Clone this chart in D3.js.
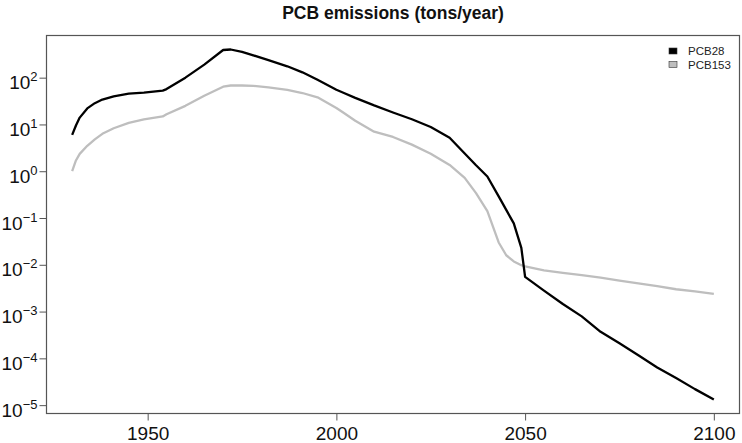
<!DOCTYPE html>
<html>
<head>
<meta charset="utf-8">
<script src="https://cdn.jsdelivr.net/npm/d3@7/dist/d3.min.js"></script>
<style>
  html, body { margin: 0; padding: 0; background: #fff; }
  svg { display: block; font-family: "Liberation Sans", Arial, sans-serif; }
</style>
</head>
<body>
<svg id="chart" width="742" height="443"></svg>
<script>
// ---- data ----
const years = [1930, 1931, 1932, 1934, 1936, 1938, 1941, 1945, 1949, 1954, 1955,
  1960, 1965, 1970, 1972, 1975, 1978, 1982, 1987, 1991, 1995, 2000, 2002, 2005,
  2010, 2015, 2020, 2025, 2030, 2034, 2037, 2040, 2043, 2045, 2047, 2049, 2050,
  2055, 2060, 2065, 2070, 2075, 2080, 2085, 2090, 2095, 2100];
const pcb28 = [6.0, 9.5, 14, 22, 28.5, 34, 40, 45.5, 48, 53, 57,
  100, 190, 390, 400, 355, 300, 237, 175, 130, 90, 55, 47, 37,
  25.5, 18, 12.9, 8.8, 5.2, 2.4, 1.34, 0.77, 0.29, 0.149, 0.077, 0.023, 0.0055,
  2.8e-3, 1.45e-3, 7.9e-4, 3.7e-4, 2.1e-4, 1.17e-4, 6.4e-5, 3.8e-5, 2.2e-5, 1.32e-5];
const pcb153 = [1.0, 1.7, 2.35, 3.5, 4.8, 6.3, 8.3, 10.8, 12.8, 14.8, 16.5,
  25, 41, 64, 68, 68, 67, 62, 55, 47, 38, 22.4, 17.5, 12,
  7.0, 5.4, 3.7, 2.37, 1.36, 0.72, 0.34, 0.14, 0.030, 0.016, 0.0118, 0.0098, 0.0092,
  7.6e-3, 6.7e-3, 6.0e-3, 5.3e-3, 4.6e-3, 4.0e-3, 3.5e-3, 3.0e-3, 2.7e-3, 2.4e-3];
const seriesNames = ["PCB28", "PCB153"];
const seriesColors = ["#000000", "#bebebe"];
const xTicks = [1950, 2000, 2050, 2100];
const yExponents = [2, 1, 0, -1, -2, -3, -4, -5];
const title = "PCB emissions (tons/year)";

// ---- layout ----
const box = { left: 46.5, right: 739.5, top: 35.5, bottom: 413.5 };
const svg = d3.select("#chart");

// R-style 4% axis extension
const xr = d3.extent(years);
const xpad = (xr[1] - xr[0]) * 0.04;
const allVals = pcb28.concat(pcb153);
const lr = d3.extent(allVals).map(Math.log10);
const lpad = (lr[1] - lr[0]) * 0.04;

const x = d3.scaleLinear().domain([xr[0] - xpad, xr[1] + xpad]).range([box.left, box.right]);
const y = d3.scaleLog().domain([Math.pow(10, lr[0] - lpad), Math.pow(10, lr[1] + lpad)])
  .range([box.bottom, box.top]);

const axisColor = "#555";
const fontSize = 19;
const fam = '"Liberation Sans", Arial, sans-serif';

// x axis
const gx = svg.append("g").attr("transform", `translate(0,${box.bottom})`)
  .call(d3.axisBottom(x).tickValues(xTicks).tickFormat(d3.format("d")).tickSize(7).tickPadding(6));
gx.select(".domain").remove();
gx.selectAll(".tick line").attr("stroke", axisColor).attr("stroke-width", 1);
gx.selectAll(".tick text").attr("fill", "#111").style("font-size", fontSize + "px")
  .style("font-family", fam);

// y axis
const gy = svg.append("g").attr("transform", `translate(${box.left},0)`)
  .call(d3.axisLeft(y).tickValues(yExponents.map(e => Math.pow(10, e))).tickSize(7).tickPadding(2).tickFormat(() => ""));
gy.select(".domain").remove();
gy.selectAll(".tick line").attr("stroke", axisColor).attr("stroke-width", 1);
gy.selectAll(".tick text").each(function(d) {
  const t = d3.select(this);
  t.text(null).attr("dy", null).attr("y", 11)
    .attr("fill", "#111").style("font-size", fontSize + "px")
    .style("font-family", fam);
  const e = Math.round(Math.log10(d));
  t.append("tspan").text("10");
  t.append("tspan").attr("dy", -8).style("font-size", "13px")
    .text(e < 0 ? "\u2212" + Math.abs(e) : String(e));
});

// lines
const line = d3.line().x((d, i) => x(years[i])).y(d => y(d));
[1, 0].forEach(idx => {
  const vals = idx === 0 ? pcb28 : pcb153;
  svg.append("path").datum(vals)
    .attr("fill", "none")
    .attr("stroke", seriesColors[idx])
    .attr("stroke-width", 2.3)
    .attr("stroke-linejoin", "round")
    .attr("d", line);
});

// box
svg.append("rect")
  .attr("x", box.left).attr("y", box.top)
  .attr("width", box.right - box.left).attr("height", box.bottom - box.top)
  .attr("fill", "none").attr("stroke", axisColor).attr("stroke-width", 1.2);

// title
svg.append("text").attr("x", (box.left + box.right) / 2).attr("y", 19)
  .attr("text-anchor", "middle").style("font-size", "17.5px").style("font-weight", "bold")
  .attr("fill", "#111").text(title);

// legend
const lg = svg.append("g");
seriesNames.forEach((name, i) => {
  const cy = 51 + i * 13.5;
  lg.append("rect").attr("x", 669).attr("y", cy - 3).attr("width", 8).attr("height", 6)
    .attr("fill", seriesColors[i]).attr("stroke", "#333").attr("stroke-width", 0.6);
  lg.append("text").attr("x", 688).attr("y", cy + 4)
    .style("font-size", "11.5px").attr("fill", "#222").text(name);
});
</script>
</body>
</html>
